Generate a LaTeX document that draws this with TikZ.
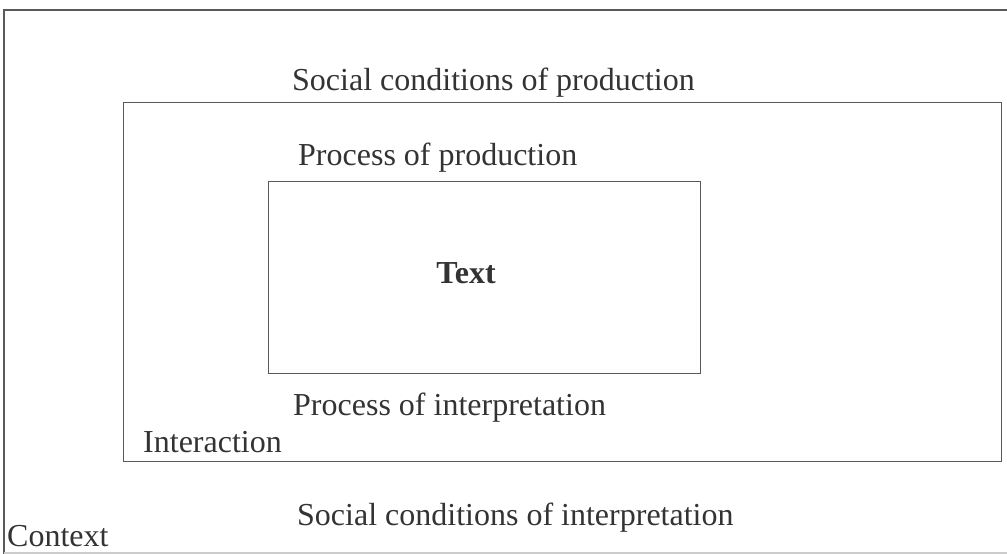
\documentclass[tikz,border=0pt]{standalone}
\usepackage{fontspec}
\setmainfont{Liberation Serif}
\begin{document}
\begin{tikzpicture}[x={(1pt,0)},y={(0,-1pt)},
  lbl/.style={inner sep=0pt,text=black!80,font=\fontsize{32}{36}\selectfont},
  frame/.style={draw=black!65,line width=1.3pt},
  box/.style={frame,inner sep=0pt}]
\useasboundingbox (0,0) rectangle (1007,554);
\clip (0,0) rectangle (1007,554);
% outer context frame (cut by the page edge)
\coordinate (ctl) at (4,10);
\coordinate (ctr) at (1012,10);
\coordinate (cbl) at (4,558);
\draw[frame] (cbl) -- (ctl) -- (ctr);
\draw[draw=black!20,line width=1.2pt] (4,553) -- (1012,553);
% interaction frame
\node[box,minimum width=878pt,minimum height=359pt,anchor=north west] (inter) at (123,102) {};
% text frame
\node[box,minimum width=432pt,minimum height=192pt,anchor=north west] (textbox) at (268,181) {};
% labels
\node[lbl,anchor=base west] (scp) at (292,90) {Social conditions of production};
\node[lbl,anchor=base west] (pp) at (298,165) {Process of production};
\node[lbl,anchor=base] (txt) at (466,283) {\textbf{Text}};
\node[lbl,anchor=base west] (pi) at (293,415) {Process of interpretation};
\node[lbl,anchor=base west] (ia) at (143,452) {Interaction};
\node[lbl,anchor=base west] (sci) at (297,525) {Social conditions of interpretation};
\node[lbl,anchor=base west] (ctx) at (7,546) {Context};
\end{tikzpicture}
\end{document}
